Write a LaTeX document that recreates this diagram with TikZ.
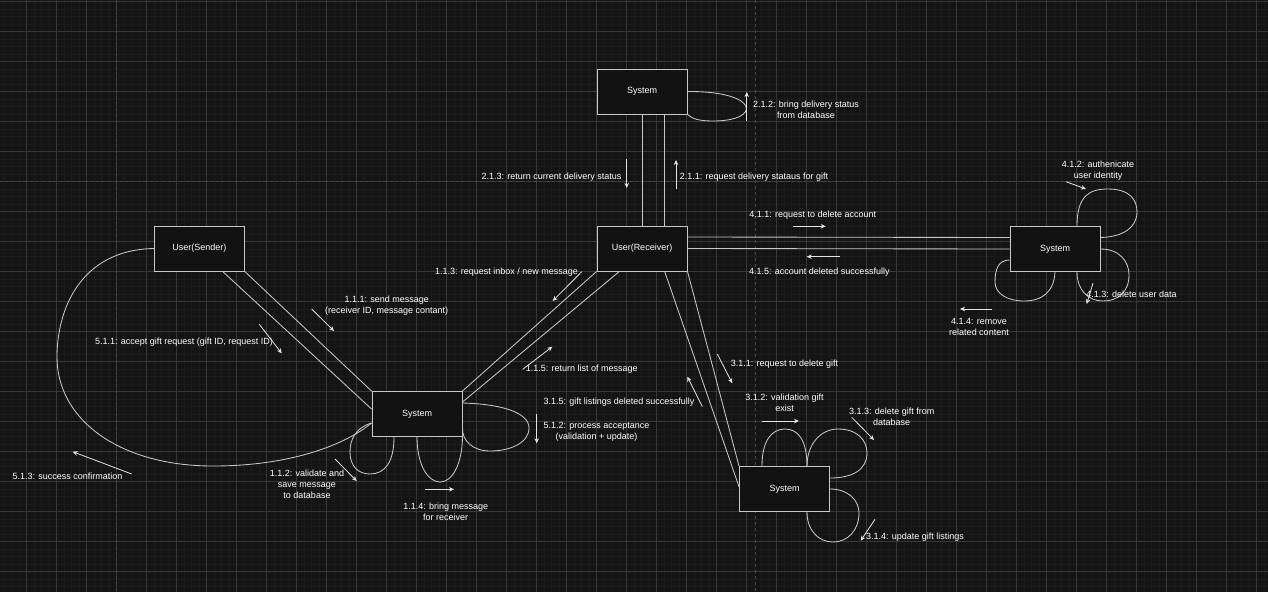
\documentclass[tikz,border=0pt]{standalone}
\usepackage{fontspec}
\setmainfont{Liberation Sans}
\usetikzlibrary{arrows.meta}

\definecolor{bgcol}{HTML}{141414}
\definecolor{minorgrid}{HTML}{1B1B1B}
\definecolor{majorgrid}{HTML}{383838}
\definecolor{pagebreak}{HTML}{454545}
\definecolor{boxfill}{HTML}{121212}
\definecolor{edgecol}{HTML}{C8C8C8}

\begin{document}
\begin{tikzpicture}[x=1pt, y=-1pt,
    objbox/.style={draw=edgecol, fill=boxfill, line width=1pt, minimum width=90pt, minimum height=45pt, inner sep=0pt, text=white, font=\fontsize{9}{11}\selectfont},
    link/.style={draw=edgecol, line width=0.85pt},
    msg/.style={draw=white!90!black, line width=0.8pt, -{Stealth[length=5pt,width=4.5pt]}},
    lbl/.style={text=white, align=center, inner sep=0pt, font=\fontsize{9}{11}\selectfont}]

    % canvas and grid
    \fill[bgcol] (0,0) rectangle (1268,592);
    \useasboundingbox (0,0) rectangle (1268,592);
    \foreach \x in {4.2,11.7,...,1268} \draw[minorgrid, line width=0.6pt] (\x,0) -- (\x,592);
    \foreach \y in {9.2,16.7,...,592} \draw[minorgrid, line width=0.6pt] (0,\y) -- (1268,\y);
    \foreach \x in {26.7,56.7,...,1268} \draw[majorgrid, line width=0.6pt] (\x,0) -- (\x,592);
    \foreach \y in {1.7,31.7,...,592} \draw[majorgrid, line width=0.6pt] (0,\y) -- (1268,\y);
    \draw[pagebreak, dashed, line width=0.7pt] (116.7,0) -- (116.7,592);
    \draw[pagebreak, dashed, line width=0.7pt] (755,0) -- (755,592);
    \draw[pagebreak, dashed, line width=0.7pt] (0,181.7) -- (1268,181.7);

    % objects
    \node[objbox] (sysTop) at (642,91.5) {System};
    \node[objbox] (recv) at (642,248.5) {User(Receiver)};
    \node[objbox] (sender) at (199.3,248.5) {User(Sender)};
    \node[objbox] (sysRight) at (1055,249) {System};
    \node[objbox] (sysLeft) at (417,414) {System};
    \node[objbox] (sysLow) at (784.5,489) {System};

    % links
    \draw[link] (sysTop.south) -- (recv.north);
    \draw[link] ([xshift=22pt]sysTop.south) -- ([xshift=22pt]recv.north);
    \draw[link] ([yshift=11.5pt]recv.east) -- ([yshift=11.5pt]sysRight.west);
    \draw[link] (recv.east) -- (sysRight.west);
    \draw[link] (sender.south east) -- (sysLeft.north west);
    \draw[link] ([xshift=23.4pt]sender.south) -- ([yshift=5pt]sysLeft.west);
    \draw[link] (recv.south west) -- (sysLeft.north east);
    \draw[link] ([xshift=-22.7pt]recv.south) -- ([yshift=12pt]sysLeft.east);
    \draw[link] ([xshift=22.7pt]recv.south) -- ([yshift=2.3pt]sysLow.west);
    \draw[link] (recv.south east) -- (sysLow.north west);
    \draw[link] (sender.west) .. controls (80,250) and (57,310) .. (57,357)
        .. controls (57,420) and (120,466) .. (213,466)
        .. controls (290,466) and (345,445) .. ([yshift=-9pt]sysLeft.west);

    % self loops
    \draw[link] (sysTop.east) .. controls (760,91) and (762,121) .. (713,121)
        .. controls (700,121) and (692,119) .. (sysTop.south east);
    \draw[link] ([xshift=22pt]sysRight.north) .. controls (1077,195) and (1090,189) .. (1108,189)
        .. controls (1130,189) and (1137,200) .. (1137,212)
        .. controls (1137,228) and (1122,237) .. ([yshift=11.5pt]sysRight.east);
    \draw[link] (sysRight.east) .. controls (1120,249) and (1129,262) .. (1129,275)
        .. controls (1129,292) and (1118,301) .. (1103,301)
        .. controls (1088,301) and (1077,290) .. ([xshift=22pt]sysRight.south);
    \draw[link] ([yshift=-11pt]sysRight.west) .. controls (998,260) and (995,270) .. (995,282)
        .. controls (995,294) and (1008,301) .. (1024,301)
        .. controls (1042,301) and (1054,292) .. (sysRight.south);
    \draw[link] ([yshift=11pt]sysLeft.east) .. controls (500,404) and (529,412) .. (529,428)
        .. controls (529,443) and (510,451) .. (490,451)
        .. controls (472,451) and (462,440) .. ([yshift=-14pt]sysLeft.east);
    \draw[link] ([yshift=-9pt]sysLeft.west) .. controls (355,428) and (350,440) .. (350,452)
        .. controls (350,466) and (358,474) .. (370,474)
        .. controls (385,474) and (394,462) .. ([xshift=-23pt]sysLeft.south);
    \draw[link] (sysLeft.south) .. controls (417,465) and (428,482) .. (440,482)
        .. controls (452,482) and (462,465) .. (sysLeft.south east);
    \draw[link] ([xshift=-22.5pt]sysLow.north) .. controls (762,440) and (772,429) .. (785,429)
        .. controls (798,429) and (807,440) .. ([xshift=22.5pt]sysLow.north);
    \draw[link] ([xshift=22.5pt]sysLow.north) .. controls (807,445) and (820,429) .. (838,429)
        .. controls (857,429) and (867,440) .. (867,453)
        .. controls (867,470) and (852,478) .. ([yshift=11pt]sysLow.east);
    \draw[link] (sysLow.east) .. controls (848,489) and (859,500) .. (859,513)
        .. controls (859,530) and (848,542) .. (833,542)
        .. controls (818,542) and (807,530) .. ([xshift=22.5pt]sysLow.south);

    % message labels
    \node[lbl] (m212) at (806,109.5) {2.1.2: bring delivery status\\from database};
    \node[lbl] (m213) at (551.5,177) {2.1.3: return current delivery status};
    \node[lbl] (m211) at (754,177) {2.1.1: request delivery stataus for gift};
    \node[lbl] (m411) at (812.7,214.7) {4.1.1: request to delete account};
    \node[lbl] (m415) at (819.3,272) {4.1.5: account deleted successfully};
    \node[lbl] (m412) at (1098,170.5) {4.1.2: authenicate\\user identity};
    \node[lbl] (m413) at (1131.5,294) {4.1.3: delete user data};
    \node[lbl] (m414) at (979,327.3) {4.1.4: remove\\related content};
    \node[lbl] (m113) at (506.5,271.7) {1.1.3: request inbox / new message};
    \node[lbl] (m111) at (386.7,305.5) {1.1.1: send message\\(receiver ID, message contant)};
    \node[lbl] (m511) at (184,341.7) {5.1.1: accept gift request (gift ID, request ID)};
    \node[lbl] (m115) at (581.8,369) {1.1.5: return list of message};
    \node[lbl] (m315) at (619,401.7) {3.1.5: gift listings deleted successfully};
    \node[lbl] (m512) at (596.5,431.5) {5.1.2: process acceptance\\(validation + update)};
    \node[lbl] (m311) at (784.5,364.3) {3.1.1: request to delete gift};
    \node[lbl] (m312) at (784.5,402.3) {3.1.2: validation gift\\exist};
    \node[lbl] (m313) at (891.7,417.2) {3.1.3: delete gift from\\database};
    \node[lbl] (m314) at (915,536.7) {3.1.4: update gift listings};
    \node[lbl] (m112) at (307,484.7) {1.1.2: validate and\\save message\\to database};
    \node[lbl] (m114) at (445.7,511.5) {1.1.4: bring message\\for receiver};
    \node[lbl] (m513) at (67.5,476.7) {5.1.3: success confirmation};

    % message arrows
    \draw[msg] (746.7,121) -- (746.7,92);
    \draw[msg] (626.7,159) -- (626.7,188);
    \draw[msg] (676,189) -- (676,160);
    \draw[msg] (793,226.3) -- (825.7,226.3);
    \draw[msg] (840,256.7) -- (806.7,256.7);
    \draw[msg] (1066,181.7) -- (1086,189);
    \draw[msg] (1093,283) -- (1086.7,304);
    \draw[msg] (992.3,309) -- (960,309);
    \draw[msg] (581.7,271.7) -- (552.7,301);
    \draw[msg] (522.7,369.3) -- (552.3,346.7);
    \draw[msg] (311.7,309) -- (334,331);
    \draw[msg] (259.3,324.3) -- (281.7,353.3);
    \draw[msg] (131.7,474) -- (72.7,451.7);
    \draw[msg] (536.7,414.3) -- (536.7,443.3);
    \draw[msg] (702.3,406.7) -- (687.3,376.7);
    \draw[msg] (335,459) -- (356.7,481);
    \draw[msg] (425,489.3) -- (454,489.3);
    \draw[msg] (717.3,354) -- (732.3,383.3);
    \draw[msg] (761.7,421) -- (799,421);
    \draw[msg] (851.7,417.3) -- (874,440);
    \draw[msg] (875,519.3) -- (860.7,540.7);
\end{tikzpicture}
\end{document}
